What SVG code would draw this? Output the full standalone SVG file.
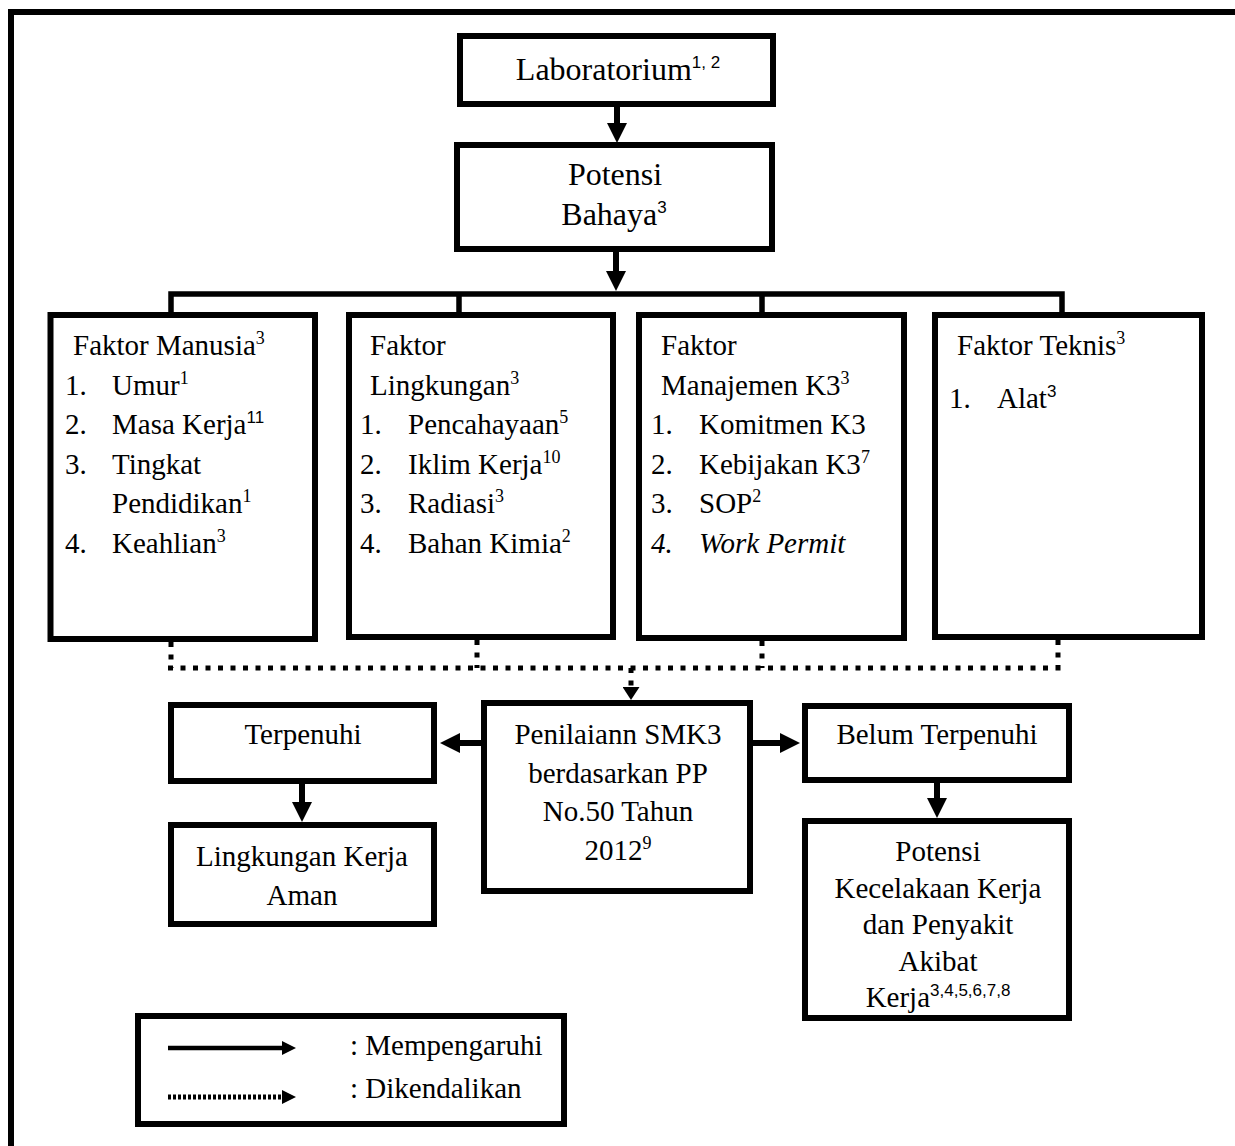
<svg xmlns="http://www.w3.org/2000/svg" width="1235" height="1146" viewBox="0 0 1235 1146">
<style>
.box{fill:#fff;stroke:#000;stroke-width:6}
.t{font-family:"Liberation Serif","Times New Roman",serif;font-size:29px;fill:#000}
.tb{font-family:"Liberation Serif","Times New Roman",serif;font-size:32px;fill:#000}
.c{text-anchor:middle}
.sup{font-family:"Liberation Serif","Times New Roman",serif;font-size:18px}
.sups{font-family:"Liberation Sans",Arial,sans-serif;font-size:17px}
.i{font-style:italic}
.ln{fill:none;stroke:#000;stroke-width:6}
.dot{fill:none;stroke:#000;stroke-width:5;stroke-dasharray:5 7.5}
</style>
<defs>
<marker id="ah" markerUnits="userSpaceOnUse" markerWidth="20" markerHeight="20" viewBox="0 0 20 20" refX="0" refY="10" orient="auto"><path d="M0,0 L20,10 L0,20 z" fill="#000"/></marker>
<marker id="ahs" markerUnits="userSpaceOnUse" markerWidth="13" markerHeight="17" viewBox="0 0 13 17" refX="0" refY="8.5" orient="auto"><path d="M0,0 L13,8.5 L0,17 z" fill="#000"/></marker>
<marker id="ahl" markerUnits="userSpaceOnUse" markerWidth="14" markerHeight="14" viewBox="0 0 14 14" refX="0" refY="7" orient="auto"><path d="M0,0 L14,7 L0,14 z" fill="#000"/></marker>
</defs>
<rect width="1235" height="1146" fill="#fff"/>
<path d="M11,1146 V12 H1235" fill="none" stroke="#000" stroke-width="6"/>

<g id="connectors">
<path class="ln" d="M617,107 V123" marker-end="url(#ah)"/>
<path class="ln" d="M616,252 V271" marker-end="url(#ah)"/>
<path fill="none" stroke="#000" stroke-width="5.5" d="M171,313 V294 H1062 V313 M459,294 V313 M762,294 V313"/>
<path class="dot" d="M171,642 V668 M477,640 V668 M762,641 V668 M1058,640 V668 M168,668 H1062"/>
<path class="dot" d="M631,668 V687" marker-end="url(#ahs)"/>
<path class="ln" d="M482,743 H460" marker-end="url(#ah)"/>
<path class="ln" d="M753,743 H780" marker-end="url(#ah)"/>
<path class="ln" d="M302,784 V802" marker-end="url(#ah)"/>
<path class="ln" d="M937,783 V798" marker-end="url(#ah)"/>
</g>

<g id="laboratorium">
<rect class="box" x="460" y="36" width="313" height="68"/>
<text class="tb c" x="618" y="80">Laboratorium<tspan class="sups" dy="-12">1, 2</tspan></text>
</g>

<g id="potensi-bahaya">
<rect class="box" x="457" y="145" width="315" height="104"/>
<text class="tb c" x="615" y="185">Potensi</text>
<text class="tb c" x="614" y="225">Bahaya<tspan class="sups" dy="-12">3</tspan></text>
</g>

<g id="faktor-manusia">
<rect class="box" x="50.5" y="315" width="264.5" height="324"/>
<text class="t" x="73" y="355">Faktor Manusia<tspan class="sup" dy="-11">3</tspan></text>
<text class="t" x="65" y="395">1.</text><text class="t" x="112" y="395">Umur<tspan class="sup" dy="-11">1</tspan></text>
<text class="t" x="65" y="434">2.</text><text class="t" x="112" y="434">Masa Kerja<tspan class="sups" dy="-11">11</tspan></text>
<text class="t" x="65" y="474">3.</text><text class="t" x="112" y="474">Tingkat</text>
<text class="t" x="112" y="513">Pendidikan<tspan class="sup" dy="-11">1</tspan></text>
<text class="t" x="65" y="553">4.</text><text class="t" x="112" y="553">Keahlian<tspan class="sup" dy="-11">3</tspan></text>
</g>

<g id="faktor-lingkungan">
<rect class="box" x="349" y="315" width="264" height="322"/>
<text class="t" x="370" y="355">Faktor</text>
<text class="t" x="370" y="395">Lingkungan<tspan class="sup" dy="-11">3</tspan></text>
<text class="t" x="360" y="434">1.</text><text class="t" x="408" y="434">Pencahayaan<tspan class="sup" dy="-11">5</tspan></text>
<text class="t" x="360" y="474">2.</text><text class="t" x="408" y="474">Iklim Kerja<tspan class="sup" dy="-11">10</tspan></text>
<text class="t" x="360" y="513">3.</text><text class="t" x="408" y="513">Radiasi<tspan class="sup" dy="-11">3</tspan></text>
<text class="t" x="360" y="553">4.</text><text class="t" x="408" y="553">Bahan Kimia<tspan class="sup" dy="-11">2</tspan></text>
</g>

<g id="faktor-manajemen">
<rect class="box" x="639" y="315" width="265" height="323"/>
<text class="t" x="661" y="355">Faktor</text>
<text class="t" x="661" y="395">Manajemen K3<tspan class="sup" dy="-11">3</tspan></text>
<text class="t" x="651" y="434">1.</text><text class="t" x="699" y="434">Komitmen K3</text>
<text class="t" x="651" y="474">2.</text><text class="t" x="699" y="474">Kebijakan K3<tspan class="sup" dy="-11">7</tspan></text>
<text class="t" x="651" y="513">3.</text><text class="t" x="699" y="513">SOP<tspan class="sup" dy="-11">2</tspan></text>
<text class="t i" x="651" y="553">4.</text><text class="t i" x="699" y="553">Work Permit</text>
</g>

<g id="faktor-teknis">
<rect class="box" x="935" y="315" width="267" height="322"/>
<text class="t" x="957" y="355">Faktor Teknis<tspan class="sup" dy="-11">3</tspan></text>
<text class="t" x="949" y="408">1.</text><text class="t" x="997" y="408">Alat<tspan class="sups" dy="-11">3</tspan></text>
</g>

<g id="terpenuhi">
<rect class="box" x="171" y="705" width="263" height="76"/>
<text class="t c" x="303" y="744">Terpenuhi</text>
</g>

<g id="penilaian">
<rect class="box" x="484" y="703" width="266" height="188"/>
<text class="t c" x="618" y="744">Penilaiann SMK3</text>
<text class="t c" x="618" y="783">berdasarkan PP</text>
<text class="t c" x="618" y="821">No.50 Tahun</text>
<text class="t c" x="618" y="860">2012<tspan class="sup" dy="-11">9</tspan></text>
</g>

<g id="belum-terpenuhi">
<rect class="box" x="805" y="706" width="264" height="74"/>
<text class="t c" x="937" y="744">Belum Terpenuhi</text>
</g>

<g id="lingkungan-kerja-aman">
<rect class="box" x="171" y="825" width="263" height="99"/>
<text class="t c" x="302" y="866">Lingkungan Kerja</text>
<text class="t c" x="302" y="905">Aman</text>
</g>

<g id="potensi-kecelakaan">
<rect class="box" x="805" y="821" width="264" height="197"/>
<text class="t c" x="938" y="861">Potensi</text>
<text class="t c" x="938" y="898">Kecelakaan Kerja</text>
<text class="t c" x="938" y="934">dan Penyakit</text>
<text class="t c" x="938" y="971">Akibat</text>
<text class="t c" x="938" y="1007">Kerja<tspan class="sups" dy="-11">3,4,5,6,7,8</tspan></text>
</g>

<g id="legend">
<rect class="box" x="138" y="1016" width="426" height="108"/>
<path d="M168,1048 H282" fill="none" stroke="#000" stroke-width="4.5" marker-end="url(#ahl)"/>
<path d="M168,1097 H282" fill="none" stroke="#000" stroke-width="5" stroke-dasharray="3 2" marker-end="url(#ahl)"/>
<text class="t" x="350" y="1055">: Mempengaruhi</text>
<text class="t" x="350" y="1098">: Dikendalikan</text>
</g>
</svg>
